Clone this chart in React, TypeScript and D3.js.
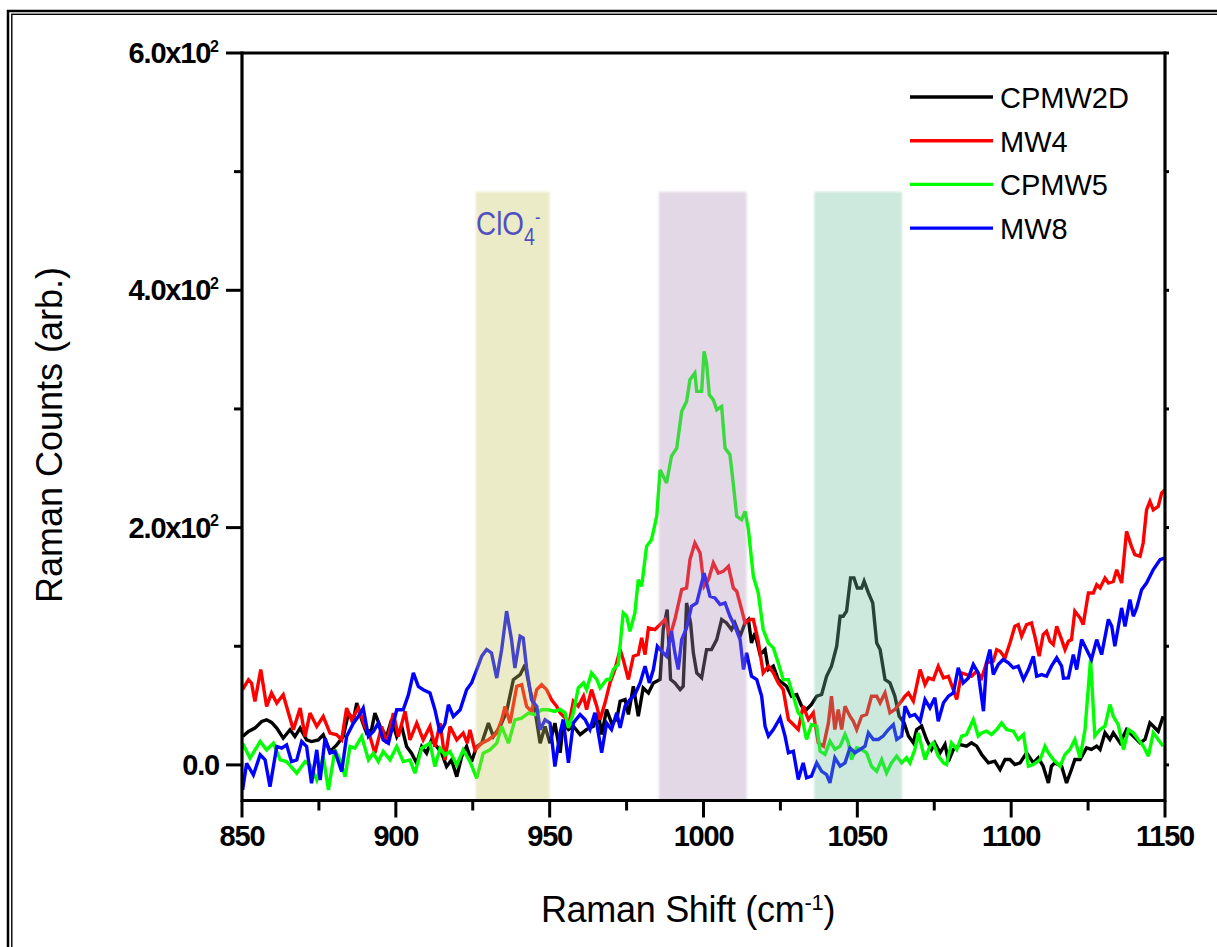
import React from 'react';
import * as d3 from 'd3';

const W = 1217;
const H = 947;

const xDomain: [number, number] = [850, 1150];
const yDomain: [number, number] = [-30, 600];
const xMajor = [850, 900, 950, 1000, 1050, 1100, 1150];
const xMinor = [875, 925, 975, 1025, 1075, 1125];
const yMajor = [0, 200, 400, 600];
const yMinor = [100, 300, 500];
const yMantissa = ['0.0', '2.0x10', '4.0x10', '6.0x10'];
const yExponent = ['', '2', '2', '2'];

const seriesNames = ['CPMW2D', 'MW4', 'CPMW5', 'MW8'];
const seriesColors = ['#000000', '#ff0000', '#00ff00', '#0000ff'];

const bandRanges: [number, number][] = [[926, 950], [985.5, 1014], [1036, 1064.5]];
const bandTop = 483;
const bandColors = ['rgb(198,198,98)', 'rgb(172,144,184)', 'rgb(109,189,155)'];

const cpmw2d: [number, number][] = [
  [850.2,23.9],[852.1,28.2],[854.2,31],[856.4,36.6],[858.0,38],[859.6,35.8],[861.3,31],[863.4,22.5],[865.6,29.6],[867.2,23.9],
  [868.9,31],[871.0,21.1],[872.6,19.7],[874.8,21.1],[876.4,25.4],[878.6,11.3],[880.8,16.9],[882.9,23.9],[884.6,43.7],[886.2,38],
  [887.3,52.1],[888.9,38],[890.5,26.8],[892.1,29.6],[893.2,43.7],[894.9,32.4],[897.0,23.9],[898.6,38],[900.3,23.9],[901.9,32.4],
  [903.5,15.5],[905.1,9.9],[906.8,1.4],[908.4,15.5],[910.0,9.9],[911.6,21.1],[913.3,15.5],[914.9,9.9],[916.5,-1.4],[918.1,4.2],
  [919.8,-9.9],[921.4,7],[923.0,15.5],[924.6,2.8],[926.3,15.5],[927.9,18.3],[930.1,35.2],[931.7,23.9],[933.9,32.4],[936.0,45.1],
  [938.2,71.8],[940.4,76],[942.0,84.5],[943.6,63.4],[945.2,46.5],[946.9,18.3],[948.5,32.4],[950.1,18.3],[951.7,35.2],
  [953.4,10.2],[954.4,35.4],[956.1,29.8],[957.7,32.6],[959.9,25.6],[962.0,29.8],[964.2,32.6],[965.8,43.9],[966.9,25.6],[968.5,46.7],
  [970.1,35.4],[971.8,38.2],[972.9,53.7],[974.5,55.1],[975.6,42.5],[977.2,66.3],[978.8,41],[980.4,64.9],[982.1,60.7],[983.7,69.1],
  [985.9,72],[986.9,114.1],[988.2,130.9],[989.3,72],[990.7,69.1],[992.4,63.5],[993.4,66.3],[994.5,136.5],[995.8,119.7],[996.7,94.4],
  [997.8,77.6],[999.4,73.4],[1001.0,97.2],[1002.6,97.2],[1004.3,105.6],[1005.9,122.5],[1007.5,119.7],[1009.1,114.1],[1010.2,119.7],[1011.9,108.4],
  [1013.5,119.7],[1014.6,122.5],[1015.6,102.8],[1016.7,111.2],[1018.4,93],[1020.0,97.2],[1021.1,80.4],[1022.7,83.2],[1024.3,72],
  [1027.0,66.3],[1028.6,57.9],[1030.3,59.3],[1031.9,49.5],[1033.5,46.7],[1035.1,50.9],[1036.8,57.9],[1038.4,59.3],[1040.0,74.7],[1041.6,83.2],
  [1043.3,100],[1044.4,125.3],[1045.4,125.3],[1046.5,129.5],[1047.8,157.6],[1048.9,157.6],[1050.0,149.1],[1051.4,149.1],[1052.2,154.8],[1053.6,145],
  [1055.0,136.5],[1056.3,102.8],[1057.4,97.2],[1059.0,71.9],[1060.6,69.1],[1062.2,57.9],[1063.6,41],[1065.2,35.4],[1066.6,24.3],[1068.2,18.6],
  [1069.3,29.8],[1070.9,32.6],[1072.5,21.4],[1074.1,13],[1075.2,18.6],[1076.9,10.2],[1078.5,17.2],[1079.6,3.1],[1081.2,13],[1083.4,17.2],
  [1085.5,15.8],[1087.1,18.6],[1088.8,15.8],[1090.4,8.8],[1092.6,1.7],[1094.7,3.1],[1096.4,-3.9],[1098.0,4.5],[1099.6,4.5],[1101.2,0.3],
  [1102.9,1.7],[1105.0,10.2],[1107.2,1.7],[1108.8,6],[1110.4,-1.1],[1112.1,-15.2],[1113.1,-1.1],[1114.2,1.7],[1116.4,-1.1],[1118.0,-15.2],
  [1119.6,-3.9],[1120.7,4.5],[1122.4,4.5],[1124.5,14.4],[1126.1,13],[1127.8,15.8],[1128.9,13],[1130.5,27],[1132.1,21.4],[1133.2,27],
  [1135.4,18.6],[1137.5,29.8],[1139.7,24.3],[1141.9,18.6],[1143.5,21.4],[1145.1,35.4],[1146.2,32.6],[1147.8,28.4],[1149.4,41],
];

const mw4: [number, number][] = [
  [850.2,63.4],[852.1,71.8],[853.1,69],[854.2,53.5],[856.1,80.3],[858.0,49.3],[859.6,60.6],[861.3,52.1],[863.4,59.2],[865.1,43.7],
  [866.7,29.6],[868.9,47.9],[870.5,23.9],[872.1,43.7],[874.3,32.4],[876.4,40.8],[878.6,26.8],[880.8,25.4],[882.4,21.1],[884.0,47.9],
  [885.6,38],[887.8,47.9],[890.0,32.4],[891.6,23.9],[893.2,9.9],[895.4,32.4],[897.0,18.3],[899.2,43.7],[900.8,23.9],[903.0,45.1],
  [904.6,21.1],[906.8,35.2],[908.9,21.1],[911.1,32.4],[912.7,15.5],[914.4,35.2],[916.0,4.2],[917.6,32.4],[919.8,21.1],[921.9,26.8],
  [923.2,18.3],[924.1,29.6],[925.7,12.7],[927.9,18.3],[930.1,21.1],[932.8,26.8],[934.4,38],[935.5,49.3],[937.1,35.2],[939.3,66.2],
  [940.9,67.6],[942.5,49.3],[944.1,45.1],[945.8,63.4],[947.4,67.6],[949.0,63.4],[950.6,54.9],[952.3,49.3],
  [953.4,43.9],[955.0,39.6],[956.1,32.6],[957.7,53.7],[959.3,49.5],[961.0,57.9],[962.0,46.7],[963.6,63.5],[965.3,49.5],[966.4,38.2],
  [968.0,52.3],[969.6,69.1],[971.2,80.4],[972.9,97.2],[973.9,88.8],[975.6,72],[977.2,91.6],[978.8,93],[979.9,107],[981.0,93],
  [982.1,115.5],[984.2,114.1],[985.9,118.3],[987.5,122.5],[989.1,108.4],[990.7,122.5],[992.9,147.8],[994.5,149.1],[995.6,173],[997.2,187],
  [998.9,178.6],[1000.2,150.6],[1001.6,156.1],[1003.2,170.2],[1004.8,161.7],[1006.4,163.1],[1008.1,167.4],[1009.7,149.1],[1010.8,146.4],[1012.4,130.9],
  [1013.5,119.7],[1015.1,122.5],[1016.2,122.5],[1017.8,104.2],[1019.4,77.6],[1021.1,83.2],[1022.7,77.6],[1024.3,69.1],
  [1025.9,63.5],[1027.6,38.2],[1029.2,34],[1030.8,29.8],[1032.4,49.5],[1034.1,38.2],[1035.7,43.9],[1037.3,18.6],[1039.0,15.8],[1040.6,35.4],
  [1041.6,57.9],[1042.7,29.8],[1043.8,46.7],[1044.9,29.8],[1046.0,49.5],[1047.6,41],[1048.7,36.8],[1049.8,29.8],[1051.4,41],[1053.0,42.5],
  [1054.6,57.9],[1056.3,57.9],[1057.4,52.3],[1059.0,60.7],[1060.6,43.9],[1062.2,46.7],[1063.9,52.3],[1065.5,57.9],[1066.6,60.7],[1068.2,53.7],
  [1070.4,80.4],[1072.0,67.7],[1073.1,73.3],[1074.7,71.9],[1076.3,83.2],[1078.0,73.3],[1079.6,74.7],[1081.2,63.5],[1082.3,55.1],[1083.9,77.5],
  [1085.5,76.1],[1087.1,74.7],[1088.8,78.9],[1090.4,73.3],[1092.0,86],[1094.2,87.4],
  [1095.3,97.2],[1096.4,95.8],[1098.0,90.2],[1099.6,102.8],[1101.2,116.8],[1102.3,118.2],[1103.4,108.4],[1105.0,118.2],[1106.6,119.6],[1107.7,108.4],
  [1109.1,91.6],[1110.4,109.8],[1111.5,112.6],[1112.6,104.2],[1113.7,101.4],[1114.8,116.8],[1116.4,105.6],[1117.5,97.2],[1118.6,104.2],[1119.6,105.6],
  [1120.7,129.5],[1122.4,123.9],[1123.4,118.2],[1125.1,144.9],[1126.7,144.9],[1127.8,151.9],[1128.9,149.1],[1130.5,157.5],[1131.6,153.3],[1133.2,154.7],
  [1134.3,164.5],[1135.9,153.3],[1137.5,196.8],[1139.1,184.2],[1140.2,177.2],[1141.9,175.8],[1142.9,187],[1144.0,215],[1145.1,222.1],[1146.2,215],
  [1147.8,217.9],[1148.9,229.1],[1150.0,231.9],
];

const cpmw5: [number, number][] = [
  [850.2,18.3],[852.6,5.6],[855.9,19.7],[858.0,12.7],[860.2,18.3],[862.4,4.2],[864.5,2.8],[867.8,-7],[870.5,2.8],[872.1,0],
  [874.3,-12.7],[876.4,7],[878.1,-21.1],[880.2,12.7],[881.9,4.2],[883.5,-9.9],[885.1,15.5],[886.7,14.1],[888.9,23.9],[891.1,4.2],
  [892.7,9.9],[894.3,2.8],[895.9,11.3],[898.1,4.2],[900.3,15.5],[902.4,2.8],[904.6,4.2],[906.2,-7],[908.4,14.1],[911.1,18.3],
  [912.7,-1.4],[914.4,14.1],[916.0,8.5],[917.6,11.3],[919.8,0],[921.9,12.7],[924.1,2.8],[926.3,-11.3],[928.4,9.9],[930.6,12.7],
  [932.8,18.3],[934.4,32.4],[936.6,18.3],[938.7,38],[940.9,39.4],[943.1,43.7],[945.2,42.3],[947.4,46.5],[949.6,46.5],[951.7,45.1],
  [953.4,46.7],[955.0,43.9],[956.1,31.2],[957.7,43.9],[959.3,64.9],[961.0,69.1],[962.0,63.5],[963.6,77.6],[965.3,72],[966.4,64.9],
  [968.5,72],[969.6,72],[970.7,80.4],[972.3,84.6],[973.9,128.1],[975.0,125.3],[976.1,112.6],[977.7,128.1],[978.8,156.1],[979.9,150.6],
  [981.5,184.2],[983.1,189.8],[984.8,209.5],[985.9,248.7],[988.0,237.6],[989.6,260.3],[991.3,267],[992.9,297.9],[994.5,306.3],[995.6,324.6],
  [997.2,330.2],[997.8,314.8],[999.4,314.8],[1000.2,348.5],[1001.0,338.6],[1001.9,311.9],[1003.2,307.7],[1004.3,299.3],[1005.9,302.1],[1007.0,267],
  [1008.6,261.4],[1009.7,236.3],[1010.8,209.5],[1012.4,206.7],[1013.5,213.7],[1014.6,198.2],[1016.2,158.9],[1017.8,144.9],[1019.4,114.1],[1021.1,102.8],
  [1022.7,98.6],[1024.3,86],
  [1025.9,71.9],[1027.6,71.9],[1029.2,57.9],[1030.8,43.9],[1031.9,41],[1033.5,21.4],[1035.1,34],[1036.8,32.6],[1037.9,11.6],[1039.5,8.8],
  [1041.1,20],[1042.7,13],[1044.4,15.8],[1046.0,25.6],[1047.1,18.6],[1048.1,4.5],[1049.8,14.4],[1051.4,13],[1053.0,10.2],[1054.6,-1.1],
  [1056.3,-5.4],[1057.9,4.5],[1059.5,-6.8],[1061.1,1.7],[1062.8,7.4],[1064.4,1.7],[1066.0,6],[1067.1,1.7],[1068.7,13],[1069.8,27],
  [1072.0,4.5],[1073.6,15.8],[1074.7,18.6],[1076.3,7.4],[1078.0,1.7],[1079.0,0.3],[1080.6,18.6],[1082.3,13],[1083.9,24.3],[1085.5,25.6],
  [1087.7,38.2],[1089.3,24.3],[1090.4,27],[1092.0,28.4],[1093.6,25.6],[1095.3,29.8],[1096.9,35.4],[1098.5,29.8],[1100.7,28.4],[1102.3,21.4],
  [1104.0,25.6],[1105.6,-1.1],[1107.2,0.3],[1109.4,4.5],[1111.0,15.8],[1112.1,10.2],[1113.7,4.5],[1115.9,-1.1],[1117.5,8.8],[1119.1,13],
  [1120.7,21.4],[1122.4,6],[1124.0,29.8],[1125.8,88.8],[1127.2,24.3],[1128.9,29.8],[1130.5,32.6],[1132.1,50.9],[1133.2,41],[1134.8,34],
  [1136.5,13],[1138.1,29.8],[1139.7,27],[1141.3,21.4],[1143.0,15.8],[1144.6,7.4],[1146.2,27],[1147.8,21.4],[1149.4,15.8],
];

const mw8: [number, number][] = [
  [850.2,-21.1],[851.5,1.4],[853.7,-8.5],[855.9,8.5],[857.5,4.2],[859.1,-18.3],[861.3,15.5],[862.9,14.1],[864.5,16.9],[866.1,2.8],
  [867.8,4.2],[869.4,19.7],[871.0,15.5],[872.6,-15.5],[874.3,12.7],[875.4,-12.7],[877.0,22.5],[878.6,9.9],[880.2,11.3],[882.4,-5.6],
  [884.0,23.9],[886.2,35.2],[887.8,40.8],[889.4,47.9],[891.1,23.9],[892.7,28.2],[894.3,35.2],[895.9,21.1],[897.6,18.3],[899.2,35.2],
  [900.3,46.5],[902.4,46.5],[904.1,59.2],[905.7,77.5],[907.3,66.2],[908.9,63.4],[911.1,60.6],[912.7,46.5],[914.4,26.8],[916.0,35.2],
  [917.1,50.7],[918.7,40.8],[920.9,46.5],[923.0,63.4],[924.6,69],[926.3,80.3],[927.9,91.5],[929.5,97.2],[931.1,94.4],[932.8,73.2],
  [934.4,97.2],[936.0,129.6],[937.6,105.6],[938.7,81.7],[940.4,108.5],[941.4,107],[942.5,81.7],[944.1,54.9],[945.8,49.3],[946.9,29.6],
  [948.5,38],[950.1,35.2],[951.7,-1.4],
  [953.4,27],[954.4,38.2],[956.1,1.7],[957.7,35.4],[959.9,42.5],[961.5,38.2],[963.1,30],[964.7,43.9],[966.9,10.2],[968.5,35.4],
  [970.1,29.8],[971.8,43.9],[972.9,31.2],[974.5,49.5],[976.1,55.1],[977.7,59.3],[979.4,69.1],[981.0,83.2],[982.4,69.1],[983.7,80.4],
  [985.0,100],[986.4,95.8],[988.0,91.6],[989.6,112.6],[990.7,94.4],[991.8,80.4],[992.9,105.6],[994.5,115.5],[996.1,133.7],[997.8,136.5],
  [998.9,147.8],[1000.2,161.7],[1001.0,153.3],[1002.1,142.1],[1003.7,140.7],[1005.4,135.1],[1007.0,136.5],[1008.6,125.3],[1010.2,116.9],[1011.9,105.6],
  [1013.0,80.4],[1014.0,94.4],[1015.6,74.8],[1017.3,72],[1018.9,57.9],[1020.0,32.6],[1021.1,24.3],[1022.7,29.8],
  [1024.9,39.6],[1026.5,24.3],[1027.6,10.2],[1029.2,11.6],[1030.8,-12.3],[1032.4,1.7],[1033.5,-10.9],[1035.1,-9.5],[1036.8,1.7],[1038.4,-5.4],
  [1040.0,-8.1],[1041.1,-15.2],[1042.7,6],[1044.4,-1.1],[1046.0,1.7],[1047.6,14.4],[1049.2,10.2],[1050.9,13],[1052.5,15.8],[1053.6,27],
  [1055.2,21.4],[1056.8,21.4],[1058.4,24.3],[1060.1,29.8],[1061.7,34],[1062.8,21.4],[1064.4,24.3],[1065.5,49.5],[1067.1,41],[1068.7,42.5],
  [1070.4,36.8],[1072.0,55.1],[1073.6,48.1],[1075.2,56.5],[1076.3,36.8],[1078.0,52.3],[1079.6,57.9],[1081.2,60.7],[1082.8,81.8],[1084.4,69.1],
  [1086.1,73.3],[1087.7,84.6],[1089.3,77.5],[1091.0,45.3],[1092.0,86],[1093.1,97.2],[1094.2,76.1],[1095.8,84.6],[1097.4,88.8],[1099.1,86],
  [1100.7,81.8],[1102.3,83.2],[1104.0,71.9],[1105.6,80.4],[1107.2,91.6],[1108.3,74.7],[1109.9,76.1],[1111.5,74.7],[1113.1,83.2],[1114.8,90.2],
  [1116.4,83.2],[1117.0,73],[1118.6,73.3],[1120.2,93],[1121.3,80.4],[1122.9,105.6],[1124.5,97.2],[1126.1,88.8],[1127.8,105.6],[1129.4,93],
  [1131.6,122.6],[1132.7,116.8],[1133.7,100],[1135.9,132.3],[1137.0,116.8],[1138.6,139.3],[1139.7,125.3],[1140.8,132.3],[1142.4,147.7],[1144.0,153.3],
  [1146.2,164.6],[1148.4,173],[1150.0,174.4],
];

const allSeries = [cpmw2d, mw4, cpmw5, mw8];

const FONT = '"Liberation Sans", Arial, Helvetica, sans-serif';

export default function App() {
  const left = 242, right = 1165, top = 53, bottom = 800.5;
  const x = d3.scaleLinear().domain(xDomain).range([left, right]);
  const y = d3.scaleLinear().domain(yDomain).range([bottom, top]);
  const line = d3.line<[number, number]>().x(d => x(d[0])).y(d => y(d[1]));

  const legendX0 = 910, legendX1 = 993, legendY0 = 97, legendDy = 43.7;

  return (
    <div style={{ position: 'absolute', left: 0, top: 0 }}>
      <svg width={W} height={H} viewBox={`0 0 ${W} ${H}`} style={{ display: 'block', background: '#fff' }}>
        <defs>
          <clipPath id="plotClip">
            <rect x={left} y={top} width={right - left} height={bottom - top} />
          </clipPath>
          <filter id="soft" x="-20%" y="-5%" width="140%" height="110%">
            <feGaussianBlur stdDeviation="1.3" />
          </filter>
        </defs>
        <rect x={0} y={0} width={W} height={H} fill="#fff" />
        {/* outer double frame */}
        <rect x={8} y={11} width={1240} height={980} fill="none" stroke="#000" strokeWidth={2.5} />
        <rect x={11.8} y={14.3} width={1240} height={980} fill="none" stroke="#000" strokeWidth={1.4} />

        {/* series */}
        <g clipPath="url(#plotClip)">
          {allSeries.map((s, i) => (
            <path key={seriesNames[i]} d={line(s) || ''} fill="none" stroke={seriesColors[i]} strokeWidth={3.4} strokeLinejoin="miter" strokeMiterlimit={3} />
          ))}
        </g>

        {/* ClO4- label */}
        <text transform="translate(476,235) scale(0.82,1)" fill="#1010f0" fontFamily={FONT} fontSize={34}>
          ClO<tspan fontSize={24} dy={10}>4</tspan><tspan fontSize={20} dy={-21}>-</tspan>
        </text>

        {/* shaded bands on top */}
        <g clipPath="url(#plotClip)">
          {bandRanges.map((b, i) => (
            <rect key={i} x={x(b[0])} y={y(bandTop)} width={x(b[1]) - x(b[0])} height={bottom - y(bandTop) + 4}
              fill={bandColors[i]} fillOpacity={0.35} filter="url(#soft)" />
          ))}
        </g>

        {/* axes frame */}
        <g stroke="#000" strokeWidth={3.2} fill="none">
          <line x1={left} y1={top} x2={right} y2={top} />
          <line x1={left} y1={bottom} x2={right} y2={bottom} />
          <line x1={left} y1={top - 1.5} x2={left} y2={bottom + 1.5} />
          <line x1={right} y1={top - 1.5} x2={right} y2={bottom + 1.5} />
        </g>

        {/* ticks */}
        <g stroke="#000" strokeWidth={3}>
          {xMajor.map(v => <line key={'xM' + v} x1={x(v)} x2={x(v)} y1={bottom} y2={bottom + 17} />)}
          {xMinor.map(v => <line key={'xm' + v} x1={x(v)} x2={x(v)} y1={bottom} y2={bottom + 10} />)}
          {yMajor.map(v => <line key={'yM' + v} x1={left - 16} x2={left} y1={y(v)} y2={y(v)} />)}
          {yMinor.map(v => <line key={'ym' + v} x1={left - 8} x2={left} y1={y(v)} y2={y(v)} />)}
          {[...yMajor, ...yMinor].map(v => <line key={'yr' + v} x1={right} x2={right + 4} y1={y(v)} y2={y(v)} />)}
        </g>

        {/* x tick labels */}
        <g fontFamily={FONT} fontWeight="bold" fontSize={29} textAnchor="middle" fill="#000" letterSpacing={-1.2}>
          {xMajor.map(v => <text key={'xl' + v} x={x(v)} y={846}>{v}</text>)}
        </g>

        {/* y tick labels */}
        <g fontFamily={FONT} fontWeight="bold" fontSize={29} textAnchor="end" fill="#000" letterSpacing={-1.2}>
          {yMajor.map((v, i) => (
            <text key={'yl' + v} x={219} y={y(v) + 10}>
              {yMantissa[i]}
              {yExponent[i] ? <tspan fontSize={16} dy={-11.5} letterSpacing={0}>{yExponent[i]}</tspan> : null}
            </text>
          ))}
        </g>

        {/* axis titles */}
        <text x={688} y={922} fontFamily={FONT} fontSize={36} textAnchor="middle" fill="#000" letterSpacing={-0.3}>
          Raman Shift (cm<tspan fontSize={22} dy={-12}>-1</tspan><tspan dy={12}>)</tspan>
        </text>
        <text transform="translate(62,435) rotate(-90)" fontFamily={FONT} fontSize={36} textAnchor="middle" fill="#000">
          Raman Counts (arb.)
        </text>

        {/* legend */}
        <g fontFamily={FONT} fontSize={29} fill="#000">
          {seriesNames.map((n, i) => (
            <g key={n}>
              <line x1={legendX0} x2={legendX1} y1={legendY0 + i * legendDy} y2={legendY0 + i * legendDy} stroke={seriesColors[i]} strokeWidth={3.4} />
              <text x={1000} y={legendY0 + i * legendDy + 11}>{n}</text>
            </g>
          ))}
        </g>
      </svg>
    </div>
  );
}
